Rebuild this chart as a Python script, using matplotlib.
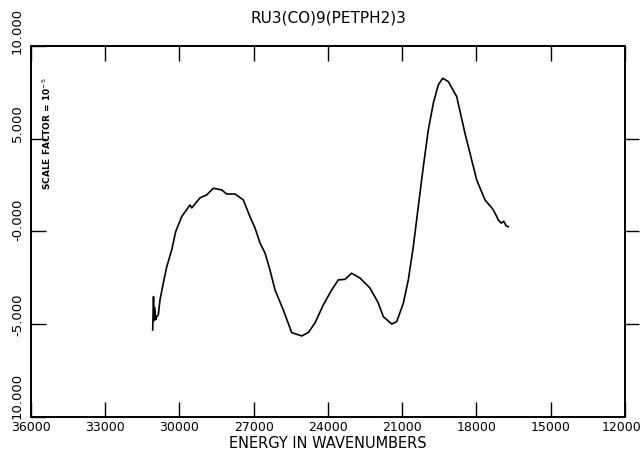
import numpy as np
import matplotlib
matplotlib.use("Agg")
import matplotlib.pyplot as plt
from matplotlib.transforms import ScaledTranslation

# spectrum (wavenumber, signal in units of 1e-5)
wavenumber = [31083, 31050, 31030, 31000, 30960, 30921, 30857, 30788, 30655, 30517,
              30315, 30154, 29911, 29576, 29507, 29172, 28901, 28634, 28295, 28093,
              27758, 27422, 27152, 26950, 26747, 26545, 26343, 26141, 25806, 25467,
              25063, 24796, 24525, 24190, 23851, 23584, 23313, 23042, 22707, 22303,
              21968, 21766, 21426, 21224, 20957, 20755, 20553, 20352, 20149, 19947,
              19745, 19543, 19366, 19139, 18800, 18465, 18194, 17992, 17657, 17400,
              17321, 17200, 17119, 17000, 16900, 16800, 16715]
signal = [-5.31, -3.51, -4.80, -4.10, -4.75, -4.59, -4.50, -3.69, -2.79, -1.91,
          -1.00, -0.01, 0.80, 1.43, 1.27, 1.81, 1.97, 2.33, 2.24, 2.02,
          2.02, 1.70, 0.80, 0.19, -0.62, -1.16, -2.08, -3.15, -4.23, -5.45,
          -5.63, -5.45, -4.93, -3.96, -3.15, -2.61, -2.58, -2.25, -2.51, -3.05,
          -3.85, -4.59, -4.99, -4.86, -3.87, -2.61, -0.82, 1.34, 3.49, 5.47,
          6.91, 7.90, 8.26, 8.08, 7.27, 5.29, 3.85, 2.78, 1.70, 1.30,
          1.16, 0.85, 0.62, 0.45, 0.55, 0.30, 0.26]

x_ticks = [36000, 33000, 30000, 27000, 24000, 21000, 18000, 15000, 12000]
y_ticks = [10, 5, 0, -5, -10]
y_tick_labels = ["10.000", "5.000", "-0.000", "-5.000", "10.000"]

fig = plt.figure(figsize=(6.43, 4.55), dpi=100)
ax = fig.add_axes([0.0482, 0.0835, 0.9238, 0.8155])

ax.plot(wavenumber, signal, color="black", linewidth=1.2)

ax.set_xlim(36000, 12000)
ax.set_ylim(-10, 10)
ax.set_xticks(x_ticks)
ax.set_xticklabels([str(v) for v in x_ticks], fontsize=9)
ax.set_yticks(y_ticks)
ax.set_yticklabels(y_tick_labels, rotation=90, va="center", fontsize=9.5)
ax.tick_params(axis="x", direction="in", length=11, width=1, top=True, pad=3)
ax.tick_params(axis="y", direction="in", length=11, width=1, right=False, pad=5)

# the old plotter put its y labels a little above the ticks
up_px = [15, 16, 12, 9, 21]
for lab, d in zip(ax.get_yticklabels(), up_px):
    lab.set_transform(lab.get_transform() + ScaledTranslation(0, d / 100, fig.dpi_scale_trans))
last = ax.get_xticklabels()[-1]
last.set_transform(last.get_transform() + ScaledTranslation(-0.03, 0, fig.dpi_scale_trans))

# right side ticks point outward
ax2 = ax.twinx()
ax2.set_ylim(-10, 10)
ax2.set_yticks([5, 0, -5])
ax2.set_yticklabels([])
ax2.tick_params(axis="y", direction="out", length=10, width=1)

for a in (ax, ax2):
    for sp in a.spines.values():
        sp.set_linewidth(1.2)

ax.set_title("RU3(CO)9(PETPH2)3", fontsize=11, pad=17)
ax.set_xlabel("ENERGY IN WAVENUMBERS", fontsize=10.5, labelpad=1)
ax.text(0.027, 0.763, "SCALE FACTOR = 10$^{-5}$", transform=ax.transAxes,
        rotation=90, ha="center", va="center", fontsize=6.5, fontweight="bold")

fig.savefig("out.png", dpi=100)
